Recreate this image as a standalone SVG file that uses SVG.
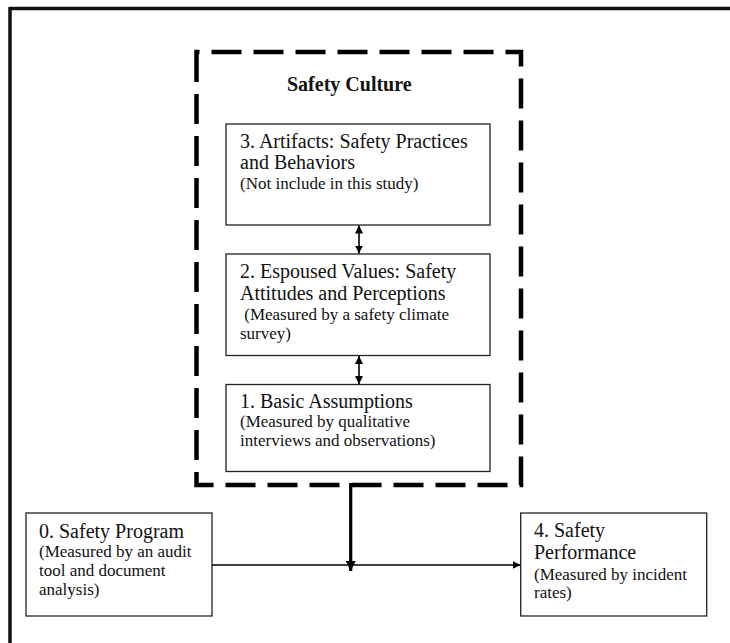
<svg xmlns="http://www.w3.org/2000/svg" width="730" height="643" viewBox="0 0 730 643">
<defs>
<style>
.box{fill:#fff;stroke:#222;stroke-width:1.3}
.t{font-family:"Liberation Serif","Times New Roman",serif;fill:#111}
.h{font-size:20px}
.s{font-size:17px}
.b{font-size:20px;font-weight:bold}
.ln{stroke:#000;fill:none}
</style>
<marker id="ah" viewBox="0 0 10 10" refX="10" refY="5" markerWidth="8" markerHeight="8" markerUnits="userSpaceOnUse" orient="auto-start-reverse"><path d="M0,0 L10,5 L0,10 z" fill="#000"/></marker>
<marker id="ahb" viewBox="0 0 10 10" refX="10" refY="5" markerWidth="10" markerHeight="10" markerUnits="userSpaceOnUse" orient="auto"><path d="M0,0 L10,5 L0,10 z" fill="#000"/></marker>
</defs>
<rect width="730" height="643" fill="#fff"/>
<g id="frame">
<line x1="10" y1="8.5" x2="730" y2="8.5" stroke="#111" stroke-width="3.5"/>
<line x1="10" y1="7" x2="10" y2="643" stroke="#111" stroke-width="3.5"/>
</g>
<g id="safety-culture">
<path d="M196.5,52 V485 H521 V52 Z" fill="none" stroke="#000" stroke-width="4.5" stroke-dasharray="30 12"/>
<text class="t b" x="287" y="91">Safety Culture</text>
</g>
<g id="n3">
<rect class="box" x="226" y="124" width="264" height="101"/>
<text class="t h" x="240" y="148">3. Artifacts: Safety Practices</text>
<text class="t h" x="240" y="169">and Behaviors</text>
<text class="t s" x="240" y="189">(Not include in this study)</text>
</g>
<g id="n2">
<rect class="box" x="226" y="254" width="264" height="101.5"/>
<text class="t h" x="240" y="278">2. Espoused Values: Safety</text>
<text class="t h" x="240" y="300">Attitudes and Perceptions</text>
<text class="t s" x="240" y="320" xml:space="preserve"> (Measured by a safety climate</text>
<text class="t s" x="240" y="339">survey)</text>
</g>
<g id="n1">
<rect class="box" x="226" y="384.5" width="264" height="87"/>
<text class="t h" x="240" y="408">1. Basic Assumptions</text>
<text class="t s" x="240" y="427">(Measured by qualitative</text>
<text class="t s" x="240" y="446">interviews and observations)</text>
</g>
<g id="n0">
<rect class="box" x="26" y="513" width="186" height="103"/>
<text class="t h" x="39" y="538">0. Safety Program</text>
<text class="t s" x="39" y="557">(Measured by an audit</text>
<text class="t s" x="39" y="576">tool and document</text>
<text class="t s" x="39" y="595">analysis)</text>
</g>
<g id="n4">
<rect class="box" x="520.7" y="513" width="186" height="103"/>
<text class="t h" x="534" y="537">4. Safety</text>
<text class="t h" x="534" y="559">Performance</text>
<text class="t s" x="534" y="580">(Measured by incident</text>
<text class="t s" x="534" y="598">rates)</text>
</g>
<g id="connectors">
<line class="ln" x1="359" y1="225.5" x2="359" y2="253.5" stroke-width="1.6" marker-start="url(#ah)" marker-end="url(#ah)"/>
<line class="ln" x1="359" y1="356" x2="359" y2="384" stroke-width="1.6" marker-start="url(#ah)" marker-end="url(#ah)"/>
<line class="ln" x1="212" y1="565" x2="520.5" y2="565" stroke-width="1.3" marker-end="url(#ah)"/>
<line class="ln" x1="350.7" y1="483" x2="350.7" y2="571" stroke-width="3.2" marker-end="url(#ahb)"/>
</g>
</svg>
